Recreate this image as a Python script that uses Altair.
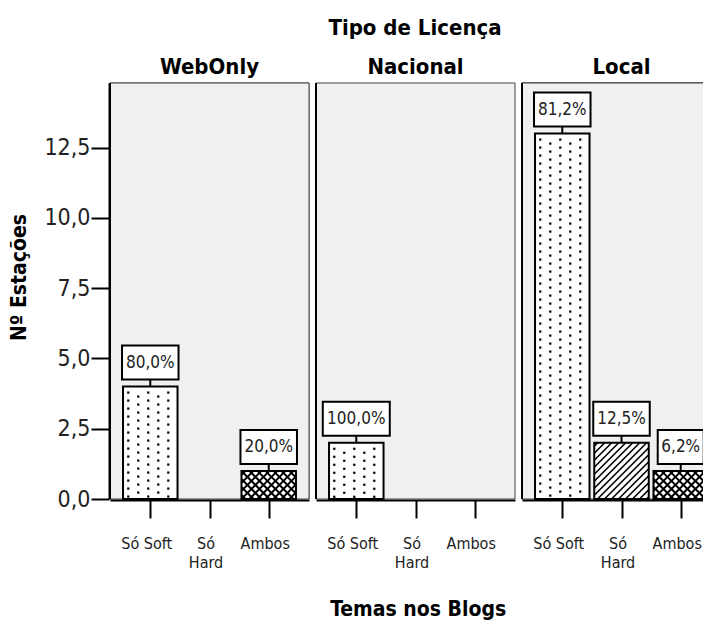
import json
import altair as alt
import pandas as pd

# ---------------- data ----------------
licencas = ["WebOnly", "Nacional", "Local"]
temas = ["Só Soft", "Só Hard", "Ambos"]
tema_linhas = [["Só Soft"], ["Só", "Hard"], ["Ambos"]]
cont_webonly = [4, 0, 1]
cont_nacional = [2, 0, 0]
cont_local = [13, 2, 1]
pct_webonly = ["80,0%", "", "20,0%"]
pct_nacional = ["100,0%", "", ""]
pct_local = ["81,2%", "12,5%", "6,2%"]
padroes = ["dots", "hatch", "cross"]
y_ticks = [0, 2.5, 5, 7.5, 10, 12.5]

contagens = {"WebOnly": cont_webonly, "Nacional": cont_nacional, "Local": cont_local}
percent = {"WebOnly": pct_webonly, "Nacional": pct_nacional, "Local": pct_local}

# ---------------- style constants ----------------
W, H = 199, 416
XDOM = [-0.68, 2.68]
YDOM = [0, 14.8]
PX = W / (XDOM[1] - XDOM[0])
PY = H / (YDOM[1] - YDOM[0])
BAR_W = 54.5
FONT = "DejaVu Sans Condensed, sans-serif"

rows = []
for lic in licencas:
    for i, t in enumerate(temas):
        v = contagens[lic][i]
        if v <= 0:
            continue
        hb = v * PY
        x0 = i - BAR_W / 2 / PX
        rows.append(dict(lic=lic, kind="bar", x=x0, x2=i + BAR_W / 2 / PX, y=0, y2=v))
        pat = padroes[i]
        if pat == "dots":
            for j, off in enumerate([-22, -12, -2, 8, 18]):
                d = 6 + 4 * (j % 2)
                while d < hb - 2:
                    rows.append(dict(lic=lic, kind="dot", x=i + off / PX, y=v - d / PY))
                    d += 8
        else:
            dirs = ["/"] if pat == "hatch" else ["/", "\\"]
            sp = 7 if pat == "hatch" else 8
            for dr in dirs:
                if dr == "/":
                    c = -hb + sp / 2
                    while c < BAR_W:
                        su, sv = (c, 0) if c >= 0 else (0, -c)
                        eu, ev = (c + hb, hb) if c + hb <= BAR_W else (BAR_W, BAR_W - c)
                        rows.append(dict(lic=lic, kind=pat, x=x0 + su / PX, x2=x0 + eu / PX,
                                         y=sv / PY, y2=ev / PY))
                        c += sp
                else:
                    c = sp / 2
                    while c < BAR_W + hb:
                        su, sv = (c, 0) if c <= BAR_W else (BAR_W, c - BAR_W)
                        eu, ev = (c - hb, hb) if c >= hb else (0, c)
                        rows.append(dict(lic=lic, kind=pat, x=x0 + su / PX, x2=x0 + eu / PX,
                                         y=sv / PY, y2=ev / PY))
                        c += sp
        lab = percent[lic][i]
        bw = 10.5 * len(lab) + 4
        rows.append(dict(lic=lic, kind="conn", x=i, x2=i, y=v, y2=v + 7 / PY))
        rows.append(dict(lic=lic, kind="box", x=i - bw / 2 / PX, x2=i + bw / 2 / PX,
                         y=v + 7 / PY, y2=v + 41 / PY))
        rows.append(dict(lic=lic, kind="text", x=i, y=v + 24 / PY, label=lab))

df = pd.DataFrame(rows)

xscale = alt.Scale(domain=XDOM, nice=False, zero=False)
yscale = alt.Scale(domain=YDOM, nice=False)
label_expr = json.dumps(tema_linhas, ensure_ascii=False) + "[datum.value]"
xaxis = alt.Axis(values=[0, 1, 2], labelExpr=label_expr, title=None, grid=False,
                 domainColor="black", domainWidth=2, tickColor="black", tickWidth=2,
                 tickSize=18, labelFont=FONT, labelFontSize=16, labelColor="#222",
                 labelPadding=17, labelLineHeight=19, labelAngle=0, labelFlush=False,
                 labelOverlap=False, labelOffset=-4)
yaxis = alt.Axis(values=y_ticks, labelExpr="replace(format(datum.value, '.1f'), '.', ',')",
                 title="Nº Estações", grid=False, domainColor="black", domainWidth=2,
                 tickColor="black", tickWidth=2, tickSize=18, labelFont=FONT,
                 labelFontSize=23, labelColor="#222", labelPadding=1, labelFlush=False,
                 titleFont=FONT, titleFontSize=21, titleFontWeight="bold",
                 titleColor="black", titlePadding=14, titleY=194)

X = alt.X("x:Q", scale=xscale, axis=xaxis)
Y = alt.Y("y:Q", scale=yscale, axis=yaxis)
X2 = alt.X2("x2:Q")
Y2 = alt.Y2("y2:Q")

base = alt.Chart()

panel_bg = base.mark_rect(fill="#f0f0f0", stroke="#444", strokeWidth=1).encode(
    x=alt.value(0), x2=alt.value(W), y=alt.value(0), y2=alt.value(H)
).transform_filter("datum.kind == 'bar'")

frame = base.mark_rule(color="black", strokeWidth=2).encode(
    x=alt.value(0), y=alt.value(0), y2=alt.value(H)
).transform_filter("datum.kind == 'bar'")

bars = base.mark_bar(fill="white", stroke=None).encode(x=X, x2=X2, y=Y, y2=Y2
).transform_filter("datum.kind == 'bar'")

dots = base.mark_square(size=5, color="black", opacity=1).encode(x=X, y=Y
).transform_filter("datum.kind == 'dot'")

hatch = base.mark_rule(color="black", strokeWidth=1.6).encode(x=X, x2=X2, y=Y, y2=Y2
).transform_filter("datum.kind == 'hatch'")

cross = base.mark_rule(color="black", strokeWidth=2).encode(x=X, x2=X2, y=Y, y2=Y2
).transform_filter("datum.kind == 'cross'")

outline = base.mark_bar(fillOpacity=0, stroke="black", strokeWidth=2).encode(
    x=X, x2=X2, y=Y, y2=Y2
).transform_filter("datum.kind == 'bar'")

conn = base.mark_rule(color="black", strokeWidth=2).encode(x=X, x2=X2, y=Y, y2=Y2
).transform_filter("datum.kind == 'conn'")

box = base.mark_rect(fill="white", stroke="black", strokeWidth=2).encode(
    x=X, x2=X2, y=Y, y2=Y2
).transform_filter("datum.kind == 'box'")

text = base.mark_text(font=FONT, fontSize=17, color="#222", baseline="middle",
                      align="center").encode(x=X, y=Y, text="label:N"
).transform_filter("datum.kind == 'text'")

layer = alt.layer(panel_bg, frame, bars, dots, hatch, cross, outline, conn, box,
                  text).properties(width=W, height=H)

chart = layer.facet(
    column=alt.Column("lic:N", sort=licencas,
                      header=alt.Header(title="Tipo de Licença", titleFont=FONT,
                                        titleFontSize=22, titleFontWeight="bold",
                                        titleColor="black", titlePadding=6,
                                        labelFont=FONT, labelFontSize=22,
                                        labelFontWeight="bold", labelColor="black",
                                        labelPadding=3)),
    data=df,
    spacing=5,
).properties(
    title=alt.TitleParams("Temas nos Blogs", orient="bottom", anchor="middle",
                          font=FONT, fontSize=21, fontWeight="bold",
                          color="black", offset=29, dx=53),
    padding={"left": 0, "top": 9, "right": -19, "bottom": 5},
).configure(background="white"
).configure_view(stroke=None)

chart.save("out.html", embed_options={"renderer": "svg", "actions": False})
